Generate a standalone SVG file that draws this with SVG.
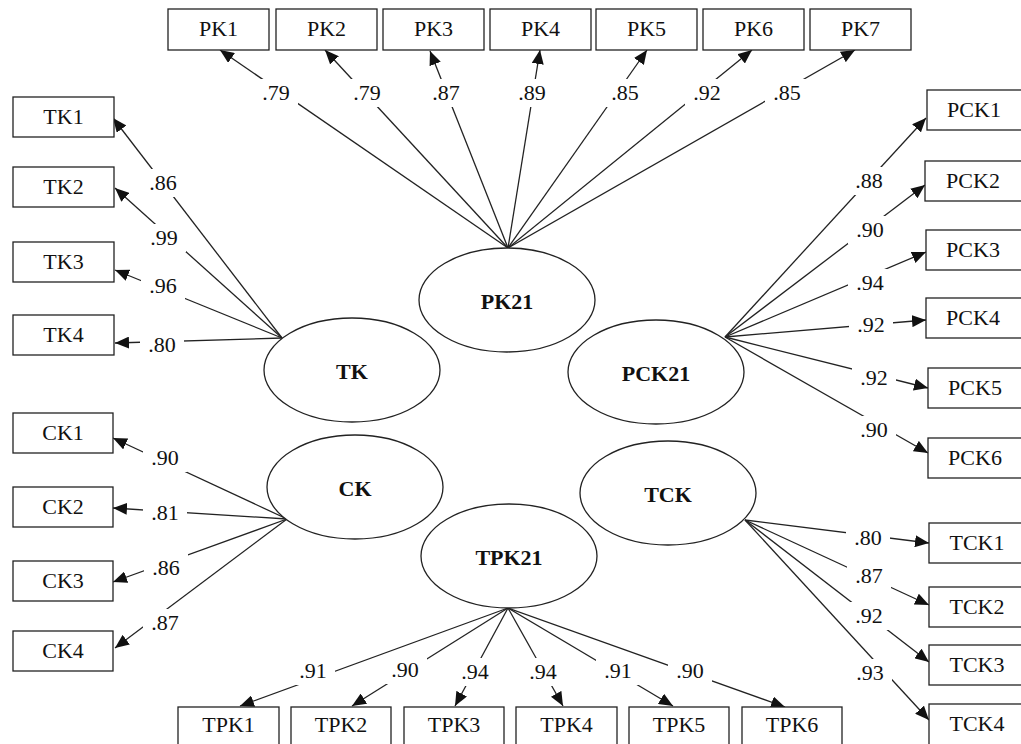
<svg xmlns="http://www.w3.org/2000/svg" width="1021" height="744" viewBox="0 0 1021 744">
<style>
.bg{fill:#fff}
.box{fill:#fff;stroke:#222;stroke-width:1.3}
.ell{fill:#fff;stroke:#222;stroke-width:1.3}
.t{font-family:"Liberation Serif","Times New Roman",serif;font-size:22px;fill:#111;text-anchor:middle}
.b{font-family:"Liberation Serif","Times New Roman",serif;font-size:22px;font-weight:bold;fill:#111;text-anchor:middle}
.c{stroke:#222;stroke-width:1.3;fill:none;marker-end:url(#ah)}
.lb{fill:#fff}
</style>
<defs>
<marker id="ah" markerUnits="userSpaceOnUse" markerWidth="14" markerHeight="12" refX="14" refY="6" orient="auto">
<path d="M0,0 L14,6 L0,12 Z" fill="#111"/>
</marker>
</defs>
<rect class="bg" x="0" y="0" width="1021" height="744"/>
<g id="connectors">
<line class="c" x1="508" y1="248" x2="220" y2="50"/>
<line class="c" x1="508" y1="248" x2="325" y2="50"/>
<line class="c" x1="508" y1="248" x2="430" y2="51"/>
<line class="c" x1="508" y1="248" x2="540" y2="50"/>
<line class="c" x1="508" y1="248" x2="647" y2="50"/>
<line class="c" x1="508" y1="248" x2="752" y2="50"/>
<line class="c" x1="508" y1="248" x2="855" y2="50"/>
<line class="c" x1="282" y1="338" x2="113" y2="118"/>
<line class="c" x1="282" y1="338" x2="115" y2="188"/>
<line class="c" x1="282" y1="338" x2="115" y2="270"/>
<line class="c" x1="282" y1="338" x2="115" y2="343"/>
<line class="c" x1="287" y1="519" x2="113" y2="438"/>
<line class="c" x1="287" y1="519" x2="113" y2="508"/>
<line class="c" x1="287" y1="519" x2="113" y2="582"/>
<line class="c" x1="287" y1="519" x2="115" y2="648"/>
<line class="c" x1="725" y1="337" x2="926" y2="118"/>
<line class="c" x1="725" y1="337" x2="925" y2="185"/>
<line class="c" x1="725" y1="337" x2="926" y2="252"/>
<line class="c" x1="725" y1="337" x2="926" y2="320"/>
<line class="c" x1="725" y1="337" x2="928" y2="388"/>
<line class="c" x1="725" y1="337" x2="928" y2="453"/>
<line class="c" x1="745" y1="520" x2="929" y2="543"/>
<line class="c" x1="745" y1="520" x2="929" y2="605"/>
<line class="c" x1="745" y1="520" x2="929" y2="662"/>
<line class="c" x1="745" y1="520" x2="929" y2="720"/>
<line class="c" x1="508" y1="608" x2="240" y2="706"/>
<line class="c" x1="508" y1="608" x2="352" y2="706"/>
<line class="c" x1="508" y1="608" x2="455" y2="706"/>
<line class="c" x1="508" y1="608" x2="563" y2="706"/>
<line class="c" x1="508" y1="608" x2="673" y2="706"/>
<line class="c" x1="508" y1="608" x2="785" y2="707"/>
<g id="labels">
<rect class="lb" x="254" y="79" width="44" height="28"/><text class="t" x="276" y="100">.79</text>
<rect class="lb" x="345" y="79" width="44" height="28"/><text class="t" x="367" y="100">.79</text>
<rect class="lb" x="424" y="79" width="44" height="28"/><text class="t" x="446" y="100">.87</text>
<rect class="lb" x="510" y="79" width="44" height="28"/><text class="t" x="532" y="100">.89</text>
<rect class="lb" x="603" y="79" width="44" height="28"/><text class="t" x="625" y="100">.85</text>
<rect class="lb" x="685" y="79" width="44" height="28"/><text class="t" x="707" y="100">.92</text>
<rect class="lb" x="765" y="79" width="44" height="28"/><text class="t" x="787" y="100">.85</text>
<rect class="lb" x="141" y="169" width="44" height="28"/><text class="t" x="163" y="190">.86</text>
<rect class="lb" x="142" y="224" width="44" height="28"/><text class="t" x="164" y="245">.99</text>
<rect class="lb" x="141" y="272" width="44" height="28"/><text class="t" x="163" y="293">.96</text>
<rect class="lb" x="140" y="331" width="44" height="28"/><text class="t" x="162" y="352">.80</text>
<rect class="lb" x="143" y="444" width="44" height="28"/><text class="t" x="165" y="465">.90</text>
<rect class="lb" x="143" y="499" width="44" height="28"/><text class="t" x="165" y="520">.81</text>
<rect class="lb" x="144" y="554" width="44" height="28"/><text class="t" x="166" y="575">.86</text>
<rect class="lb" x="143" y="609" width="44" height="28"/><text class="t" x="165" y="630">.87</text>
<rect class="lb" x="847" y="167" width="44" height="28"/><text class="t" x="869" y="188">.88</text>
<rect class="lb" x="848" y="216" width="44" height="28"/><text class="t" x="870" y="237">.90</text>
<rect class="lb" x="848" y="269" width="44" height="28"/><text class="t" x="870" y="290">.94</text>
<rect class="lb" x="849" y="311" width="44" height="28"/><text class="t" x="871" y="332">.92</text>
<rect class="lb" x="852" y="364" width="44" height="28"/><text class="t" x="874" y="385">.92</text>
<rect class="lb" x="852" y="416" width="44" height="28"/><text class="t" x="874" y="437">.90</text>
<rect class="lb" x="846" y="524" width="44" height="28"/><text class="t" x="868" y="545">.80</text>
<rect class="lb" x="847" y="562" width="44" height="28"/><text class="t" x="869" y="583">.87</text>
<rect class="lb" x="847" y="602" width="44" height="28"/><text class="t" x="869" y="623">.92</text>
<rect class="lb" x="848" y="659" width="44" height="28"/><text class="t" x="870" y="680">.93</text>
<rect class="lb" x="291" y="657" width="44" height="28"/><text class="t" x="313" y="678">.91</text>
<rect class="lb" x="383" y="656" width="44" height="28"/><text class="t" x="405" y="677">.90</text>
<rect class="lb" x="453" y="658" width="44" height="28"/><text class="t" x="475" y="679">.94</text>
<rect class="lb" x="521" y="658" width="44" height="28"/><text class="t" x="543" y="679">.94</text>
<rect class="lb" x="596" y="657" width="44" height="28"/><text class="t" x="618" y="678">.91</text>
<rect class="lb" x="668" y="657" width="44" height="28"/><text class="t" x="690" y="678">.90</text>
</g>
</g>
<g id="PK21"><ellipse class="ell" cx="507" cy="300" rx="88" ry="52"/><text class="b" x="507" y="309">PK21</text></g>
<g id="TK"><ellipse class="ell" cx="352" cy="370" rx="88" ry="52"/><text class="b" x="352" y="379">TK</text></g>
<g id="PCK21"><ellipse class="ell" cx="656" cy="372" rx="88" ry="52"/><text class="b" x="656" y="381">PCK21</text></g>
<g id="CK"><ellipse class="ell" cx="355" cy="487" rx="88" ry="52"/><text class="b" x="355" y="496">CK</text></g>
<g id="TCK"><ellipse class="ell" cx="668" cy="493" rx="88" ry="52"/><text class="b" x="668" y="502">TCK</text></g>
<g id="TPK21"><ellipse class="ell" cx="509" cy="556" rx="88" ry="52"/><text class="b" x="509" y="565">TPK21</text></g>
<g id="PK1"><rect class="box" x="168" y="9" width="101" height="41"/><text class="t" x="218.5" y="36">PK1</text></g>
<g id="PK2"><rect class="box" x="276" y="9" width="101" height="41"/><text class="t" x="326.5" y="36">PK2</text></g>
<g id="PK3"><rect class="box" x="383" y="9" width="101" height="41"/><text class="t" x="433.5" y="36">PK3</text></g>
<g id="PK4"><rect class="box" x="490" y="9" width="101" height="41"/><text class="t" x="540.5" y="36">PK4</text></g>
<g id="PK5"><rect class="box" x="596" y="9" width="101" height="41"/><text class="t" x="646.5" y="36">PK5</text></g>
<g id="PK6"><rect class="box" x="703" y="9" width="101" height="41"/><text class="t" x="753.5" y="36">PK6</text></g>
<g id="PK7"><rect class="box" x="810" y="9" width="101" height="41"/><text class="t" x="860.5" y="36">PK7</text></g>
<g id="TK1"><rect class="box" x="13" y="97" width="101" height="40"/><text class="t" x="63.5" y="124">TK1</text></g>
<g id="TK2"><rect class="box" x="13" y="167" width="101" height="40"/><text class="t" x="63.5" y="194">TK2</text></g>
<g id="TK3"><rect class="box" x="13" y="242" width="101" height="40"/><text class="t" x="63.5" y="269">TK3</text></g>
<g id="TK4"><rect class="box" x="13" y="315" width="101" height="40"/><text class="t" x="63.5" y="342">TK4</text></g>
<g id="CK1"><rect class="box" x="13" y="413" width="100" height="40"/><text class="t" x="63" y="440">CK1</text></g>
<g id="CK2"><rect class="box" x="13" y="487" width="100" height="40"/><text class="t" x="63" y="514">CK2</text></g>
<g id="CK3"><rect class="box" x="13" y="561" width="100" height="40"/><text class="t" x="63" y="588">CK3</text></g>
<g id="CK4"><rect class="box" x="13" y="631" width="100" height="40"/><text class="t" x="63" y="658">CK4</text></g>
<g id="PCK1"><rect class="box" x="927" y="90" width="100" height="40"/><text class="t" x="974" y="117">PCK1</text></g>
<g id="PCK2"><rect class="box" x="925" y="161" width="100" height="40"/><text class="t" x="973" y="188">PCK2</text></g>
<g id="PCK3"><rect class="box" x="926" y="230" width="100" height="40"/><text class="t" x="973" y="257">PCK3</text></g>
<g id="PCK4"><rect class="box" x="926" y="298" width="100" height="40"/><text class="t" x="973" y="325">PCK4</text></g>
<g id="PCK5"><rect class="box" x="928" y="368" width="100" height="40"/><text class="t" x="975" y="395">PCK5</text></g>
<g id="PCK6"><rect class="box" x="928" y="438" width="100" height="40"/><text class="t" x="975" y="465">PCK6</text></g>
<g id="TCK1"><rect class="box" x="929" y="523" width="100" height="40"/><text class="t" x="977" y="550">TCK1</text></g>
<g id="TCK2"><rect class="box" x="929" y="587" width="100" height="40"/><text class="t" x="977" y="614">TCK2</text></g>
<g id="TCK3"><rect class="box" x="929" y="645" width="100" height="40"/><text class="t" x="977" y="672">TCK3</text></g>
<g id="TCK4"><rect class="box" x="929" y="704" width="100" height="42"/><text class="t" x="977" y="731">TCK4</text></g>
<g id="TPK1"><rect class="box" x="178" y="707" width="101" height="40"/><text class="t" x="228.5" y="732">TPK1</text></g>
<g id="TPK2"><rect class="box" x="291" y="707" width="100" height="40"/><text class="t" x="341" y="732">TPK2</text></g>
<g id="TPK3"><rect class="box" x="404" y="707" width="100" height="40"/><text class="t" x="454" y="732">TPK3</text></g>
<g id="TPK4"><rect class="box" x="516" y="707" width="101" height="40"/><text class="t" x="566.5" y="732">TPK4</text></g>
<g id="TPK5"><rect class="box" x="629" y="707" width="100" height="40"/><text class="t" x="679" y="732">TPK5</text></g>
<g id="TPK6"><rect class="box" x="742" y="707" width="100" height="40"/><text class="t" x="792" y="732">TPK6</text></g>
</svg>
